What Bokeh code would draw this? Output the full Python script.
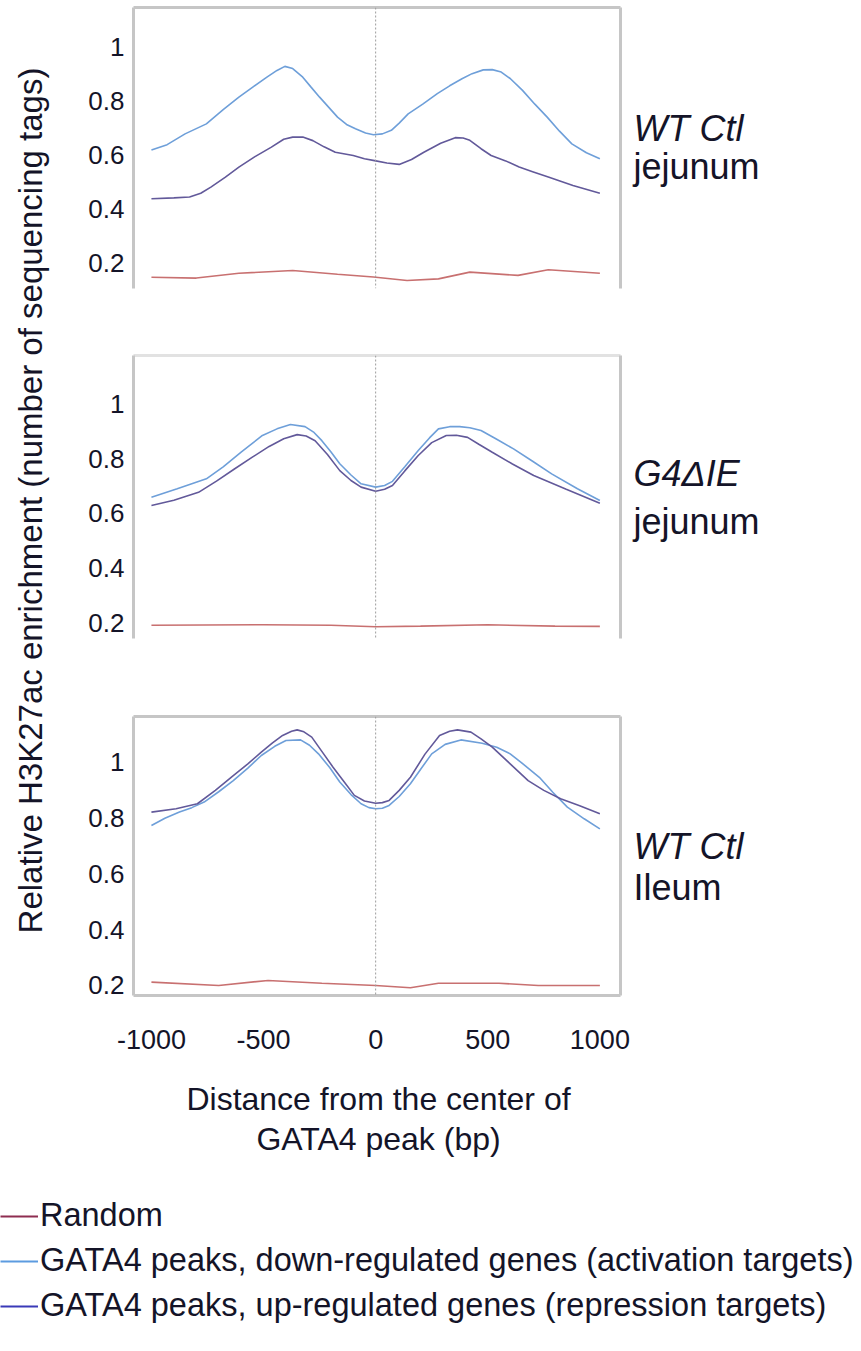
import math
import numpy as np
from bokeh.plotting import figure
from bokeh.models import Range1d, Span, Label, LinearAxis, FixedTicker, Legend, LegendItem
from bokeh.layouts import column, row
from bokeh.embed import file_html
from bokeh.resources import INLINE

FONT = "Liberation Sans"
TEXT_COLOR = "#141428"
FRAME_COLOR = "#c6c6c6"

# ---------------- data ----------------
SERIES = [
    "Random",
    "GATA4 peaks, down-regulated genes (activation targets)",
    "GATA4 peaks, up-regulated genes (repression targets)",
]
LINE_COLORS = ["#c87070", "#6e9fd9", "#62599a"]
LEGEND_COLORS = ["#8e2d50", "#5c9be0", "#3a3ab8"]

Y_TICKS = [0.2, 0.4, 0.6, 0.8, 1.0]
Y_TICK_LABELS = ["0.2", "0.4", "0.6", "0.8", "1"]
X_TICKS = [-1000, -500, 0, 500, 1000]
X_TICK_LABELS = ["-1000", "-500", "0", "500", "1000"]

PANEL_TITLES = [("WT Ctl", "jejunum"), ("G4\u0394IE", "jejunum"), ("WT Ctl", "Ileum")]

Y_TITLE = "Relative H3K27ac enrichment (number of sequencing tags)"
X_TITLE_1 = "Distance from the center of"
X_TITLE_2 = "GATA4 peak (bp)"

# Panel 1: WT Ctl jejunum
p1_random_x = [-1000, -800, -610, -370, -170, -10, 140, 280, 420, 635, 770, 1000]
p1_random_y = [0.149, 0.146, 0.164, 0.174, 0.160, 0.150, 0.137, 0.143, 0.168, 0.156, 0.177, 0.164]
p1_down_x = [-1000, -930, -850, -755, -680, -610, -545, -485, -440, -405, -370, -325, -290, -250,
             -170, -130, -90, -45, -10, 30, 70, 105, 145, 210, 275, 330, 385, 430, 480, 520, 560,
             600, 655, 710, 765, 820, 875, 940, 1000]
p1_down_y = [0.620, 0.640, 0.680, 0.717, 0.770, 0.816, 0.855, 0.890, 0.915, 0.930, 0.922, 0.890, 0.855, 0.816,
             0.742, 0.715, 0.699, 0.683, 0.677, 0.680, 0.693, 0.720, 0.754, 0.790, 0.829, 0.858, 0.884, 0.903, 0.917, 0.918, 0.909,
             0.885, 0.841, 0.790, 0.742, 0.690, 0.643, 0.610, 0.588]
p1_up_x = [-1000, -900, -830, -780, -735, -670, -610, -540, -465, -410, -370, -325, -280, -230, -180,
           -100, -50, -5, 50, 105, 160, 215, 290, 355, 390, 420, 470, 515, 580, 640, 700, 770, 880, 1000]
p1_up_y = [0.440, 0.443, 0.446, 0.460, 0.483, 0.520, 0.557, 0.595, 0.631, 0.660, 0.668, 0.668, 0.655, 0.632, 0.612,
           0.600, 0.588, 0.581, 0.572, 0.567, 0.585, 0.612, 0.645, 0.666, 0.665, 0.656, 0.625, 0.600, 0.580, 0.557, 0.540, 0.520, 0.489, 0.460]

# Panel 2: G4dIE jejunum
p2_random_x = [-1000, -500, -200, 0, 200, 500, 800, 1000]
p2_random_y = [0.193, 0.195, 0.193, 0.188, 0.190, 0.195, 0.190, 0.189]
p2_down_x = [-1000, -885, -755, -680, -600, -505, -440, -380, -315, -275, -240, -200, -160, -110, -65, 0,
             40, 75, 130, 190, 240, 280, 330, 375, 420, 470, 540, 615, 700, 785, 900, 1000]
p2_down_y = [0.659, 0.690, 0.726, 0.770, 0.823, 0.884, 0.908, 0.924, 0.916, 0.895, 0.865, 0.825, 0.781, 0.740, 0.708, 0.696,
             0.702, 0.717, 0.770, 0.829, 0.875, 0.908, 0.916, 0.916, 0.912, 0.902, 0.870, 0.835, 0.790, 0.744, 0.690, 0.647]
p2_up_x = [-1000, -900, -790, -710, -630, -550, -475, -410, -350, -310, -270, -215, -160, -110, -65, 0,
           40, 75, 130, 190, 250, 315, 360, 410, 460, 520, 610, 705, 850, 1000]
p2_up_y = [0.629, 0.648, 0.677, 0.718, 0.762, 0.805, 0.844, 0.872, 0.887, 0.882, 0.865, 0.815, 0.756, 0.720, 0.696, 0.681,
           0.688, 0.702, 0.755, 0.811, 0.858, 0.884, 0.885, 0.877, 0.852, 0.823, 0.780, 0.738, 0.688, 0.637]

# Panel 3: WT Ctl ileum
p3_random_x = [-1000, -700, -480, -240, 0, 155, 280, 550, 725, 1000]
p3_random_y = [0.212, 0.200, 0.218, 0.208, 0.200, 0.192, 0.208, 0.208, 0.200, 0.200]
p3_down_x = [-1000, -940, -875, -820, -765, -700, -635, -570, -510, -450, -400, -335, -295, -255, -205, -160,
             -110, -65, -30, 0, 30, 60, 105, 155, 200, 250, 310, 380, 475, 540, 600, 665, 730, 790, 855, 930, 1000]
p3_down_y = [0.774, 0.800, 0.822, 0.838, 0.858, 0.895, 0.935, 0.980, 1.025, 1.058, 1.079, 1.081, 1.062, 1.031, 0.982, 0.930,
             0.885, 0.852, 0.838, 0.834, 0.836, 0.846, 0.878, 0.924, 0.975, 1.031, 1.065, 1.081, 1.069, 1.055, 1.031, 0.990, 0.947, 0.893, 0.840, 0.798, 0.762]
p3_up_x = [-1000, -890, -795, -715, -635, -570, -510, -460, -415, -375, -350, -320, -285, -240, -190, -140,
           -95, -50, 0, 30, 60, 105, 155, 220, 285, 330, 365, 425, 470, 520, 600, 680, 750, 825, 910, 1000]
p3_up_y = [0.822, 0.834, 0.852, 0.900, 0.953, 0.995, 1.037, 1.070, 1.097, 1.112, 1.117, 1.110, 1.091, 1.040, 0.983, 0.930,
           0.882, 0.862, 0.854, 0.856, 0.864, 0.900, 0.947, 1.030, 1.097, 1.112, 1.117, 1.109, 1.085, 1.055, 0.995, 0.935, 0.900, 0.870, 0.845, 0.816]

PANEL_DATA = [
    [(p1_random_x, p1_random_y), (p1_down_x, p1_down_y), (p1_up_x, p1_up_y)],
    [(p2_random_x, p2_random_y), (p2_down_x, p2_down_y), (p2_up_x, p2_up_y)],
    [(p3_random_x, p3_random_y), (p3_down_x, p3_down_y), (p3_up_x, p3_up_y)],
]

# ---------------- layout (pixels) ----------------
X_RANGE = (-1080, 1092)
LEFT_W = 60
PANEL_W = 570
RIGHT_W = 861 - LEFT_W - PANEL_W
PANELS = [
    dict(yr=(0.1074, 1.148), bl=73, fw=489, bt=7, fh=281, bb=34, top=FRAME_COLOR, bottom=False),
    dict(yr=(0.145, 1.175), bl=70, fw=490, bt=33, fh=283, bb=42, top="#e2e2e2", bottom=False),
    dict(yr=(0.164, 1.165), bl=73, fw=487, bt=36, fh=279, bb=70, top=FRAME_COLOR, bottom=True),
]
# right-hand panel captions: (page baseline of line 1, page baseline of line 2)
CAPTION_BASELINES = [(128, 166), (473, 521), (846, 887)]


def bare_axis(color):
    return LinearAxis(ticker=FixedTicker(ticks=[]), axis_line_color=color, axis_line_width=3,
                      major_tick_out=0, major_tick_in=0, minor_tick_out=0, minor_tick_in=0,
                      major_label_text_font_size="0px")


panel_figs = []
for i, cfg in enumerate(PANELS):
    p = figure(width=PANEL_W, height=cfg["bt"] + cfg["fh"] + cfg["bb"],
               x_range=Range1d(*X_RANGE), y_range=Range1d(*cfg["yr"]),
               output_backend="svg", toolbar_location=None, title=None,
               min_border_left=cfg["bl"], min_border_right=PANEL_W - cfg["bl"] - cfg["fw"],
               min_border_top=cfg["bt"], min_border_bottom=cfg["bb"])
    p.outline_line_color = None
    p.xgrid.visible = False
    p.ygrid.visible = False

    ya = p.yaxis[0]
    ya.ticker = FixedTicker(ticks=Y_TICKS)
    ya.major_label_overrides = {t: l for t, l in zip(Y_TICKS, Y_TICK_LABELS)}
    ya.major_label_text_font = FONT
    ya.major_label_text_font_size = "26px"
    ya.major_label_text_color = TEXT_COLOR
    ya.major_label_standoff = 9
    ya.major_tick_out = 0
    ya.major_tick_in = 0
    ya.minor_tick_out = 0
    ya.minor_tick_in = 0
    ya.axis_line_color = FRAME_COLOR
    ya.axis_line_width = 3

    xa = p.xaxis[0]
    if cfg["bottom"]:
        xa.ticker = FixedTicker(ticks=X_TICKS)
        xa.major_label_overrides = {t: l for t, l in zip(X_TICKS, X_TICK_LABELS)}
        xa.major_label_text_font = FONT
        xa.major_label_text_font_size = "27px"
        xa.major_label_text_color = TEXT_COLOR
        xa.major_label_standoff = 34
        xa.major_tick_out = 0
        xa.major_tick_in = 0
        xa.minor_tick_out = 0
        xa.minor_tick_in = 0
        xa.axis_line_color = FRAME_COLOR
        xa.axis_line_width = 3
    else:
        xa.visible = False

    p.add_layout(bare_axis(FRAME_COLOR), "right")
    p.add_layout(bare_axis(cfg["top"]), "above")

    p.add_layout(Span(location=0, dimension="height", line_color="#9c9c9c",
                      line_dash="2 2", line_width=1))

    for (xs, ys), col in zip(PANEL_DATA[i], LINE_COLORS):
        p.line(xs, ys, line_color=col, line_width=1.6)
    panel_figs.append(p)

TOTAL_H = 1351
col_h = sum(f.height for f in panel_figs)

# left: y-axis title
left = figure(width=LEFT_W, height=col_h, x_range=Range1d(0, LEFT_W), y_range=Range1d(col_h, 0),
              output_backend="svg", toolbar_location=None, title=None,
              x_axis_type=None, y_axis_type=None, min_border=0)
left.outline_line_color = None
left.add_layout(Label(x=30, y=500, text=Y_TITLE, angle=math.pi / 2,
                      text_font=FONT, text_font_size="33px", text_color=TEXT_COLOR,
                      text_align="center", text_baseline="middle"))

# right: panel captions
right = figure(width=RIGHT_W, height=col_h, x_range=Range1d(0, RIGHT_W), y_range=Range1d(col_h, 0),
               output_backend="svg", toolbar_location=None, title=None,
               x_axis_type=None, y_axis_type=None, min_border=0)
right.outline_line_color = None
for (t1, t2), (b1, b2) in zip(PANEL_TITLES, CAPTION_BASELINES):
    right.add_layout(Label(x=3, y=b1, text=t1, text_font=FONT, text_font_size="36px",
                           text_font_style="italic", text_color=TEXT_COLOR, text_baseline="alphabetic"))
    right.add_layout(Label(x=3, y=b2, text=t2, text_font=FONT, text_font_size="36px",
                           text_color=TEXT_COLOR, text_baseline="alphabetic"))

# bottom: x-axis title and legend
bottom_h = TOTAL_H - col_h
bottom = figure(width=861, height=bottom_h, x_range=Range1d(0, 861), y_range=Range1d(0, bottom_h),
                output_backend="svg", toolbar_location=None, title=None,
                x_axis_type=None, y_axis_type=None, min_border=0)
bottom.outline_line_color = None
bottom.add_layout(Label(x=378, y=bottom_h - 33, text=X_TITLE_1, text_font=FONT, text_font_size="32px",
                        text_color=TEXT_COLOR, text_align="center", text_baseline="middle"))
bottom.add_layout(Label(x=378, y=bottom_h - 73, text=X_TITLE_2, text_font=FONT, text_font_size="32px",
                        text_color=TEXT_COLOR, text_align="center", text_baseline="middle"))

items = []
for name, col in zip(SERIES, LEGEND_COLORS):
    r = bottom.line(x=np.array([np.nan]), y=np.array([np.nan]), line_color=col, line_width=2)
    items.append(LegendItem(label=name, renderers=[r]))
legend = Legend(items=items, location=(0, 27), orientation="vertical",
                glyph_width=38, glyph_height=36, label_height=36, spacing=8,
                padding=0, margin=0, label_standoff=2,
                border_line_color=None, background_fill_alpha=0,
                label_text_font=FONT, label_text_font_size="32.5px", label_text_color=TEXT_COLOR)
bottom.add_layout(legend)

layout = column(row(left, column(*panel_figs), right), bottom)

open("out.html", "w").write(file_html(layout, INLINE))
